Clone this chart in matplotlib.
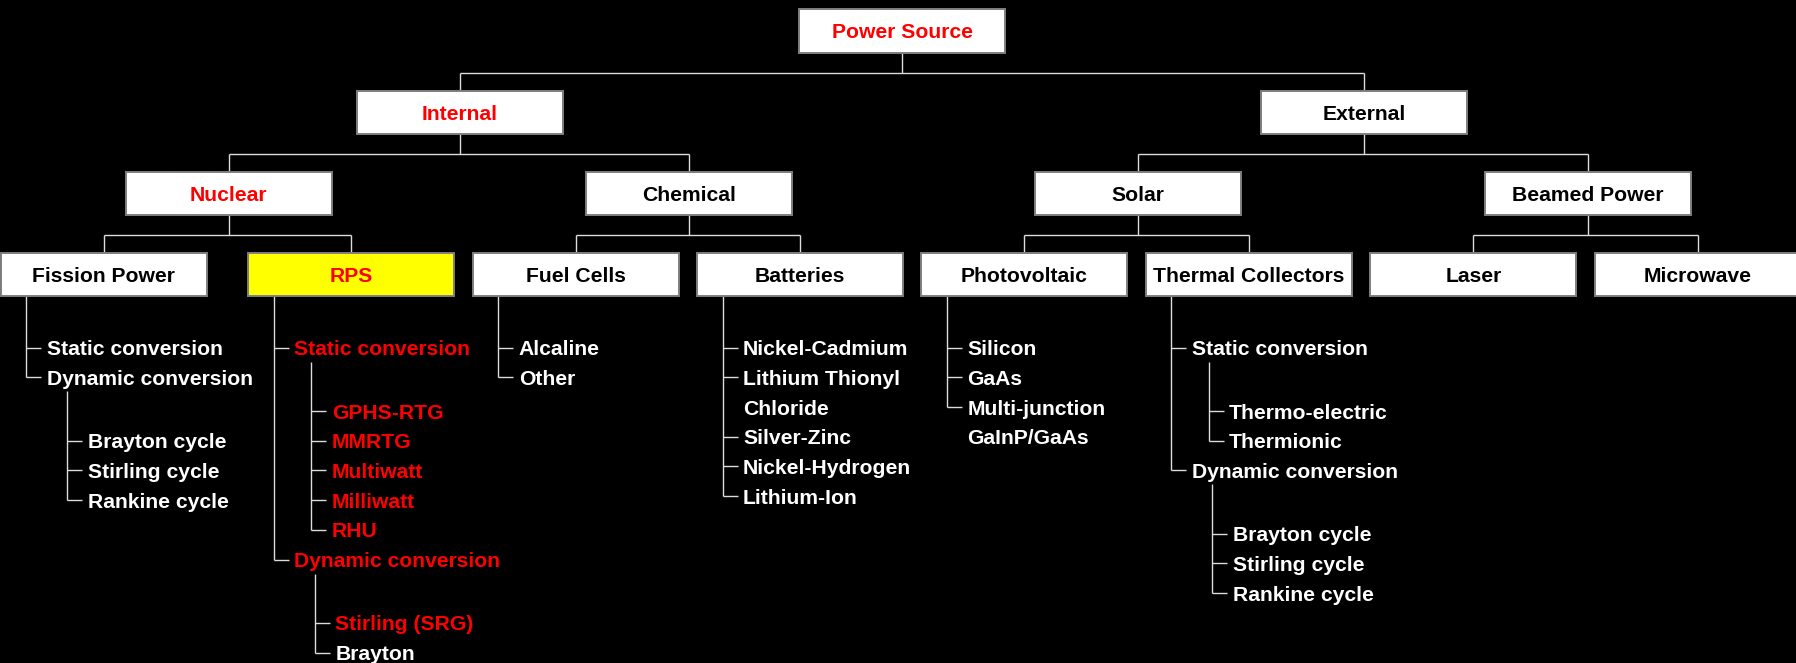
import matplotlib
matplotlib.use("Agg")
import matplotlib.pyplot as plt
from matplotlib.patches import Rectangle

# ---- tree content ----
root_label = "Power Source"
level1_labels = ["Internal", "External"]
level2_labels = ["Nuclear", "Chemical", "Solar", "Beamed Power"]
level3_labels = ["Fission Power", "RPS", "Fuel Cells", "Batteries",
                 "Photovoltaic", "Thermal Collectors", "Laser", "Microwave"]
level2_parent = [0, 0, 1, 1]
level3_parent = [0, 0, 1, 1, 2, 2, 3, 3]

# sub-lists under the bottom boxes: (label, depth); depth None = wrapped line
fission_items = [("Static conversion", 0), ("Dynamic conversion", 0),
                 ("Brayton cycle", 1), ("Stirling cycle", 1), ("Rankine cycle", 1)]
rps_items = [("Static conversion", 0), ("GPHS-RTG", 1), ("MMRTG", 1),
             ("Multiwatt", 1), ("Milliwatt", 1), ("RHU", 1),
             ("Dynamic conversion", 0), ("Stirling (SRG)", 1), ("Brayton", 1)]
fuel_items = [("Alcaline", 0), ("Other", 0)]
battery_items = [("Nickel-Cadmium", 0), ("Lithium Thionyl", 0), ("Chloride", None),
                 ("Silver-Zinc", 0), ("Nickel-Hydrogen", 0), ("Lithium-Ion", 0)]
pv_items = [("Silicon", 0), ("GaAs", 0), ("Multi-junction", 0), ("GaInP/GaAs", None)]
thermal_items = [("Static conversion", 0), ("Thermo-electric", 1), ("Thermionic", 1),
                 ("Dynamic conversion", 0), ("Brayton cycle", 1), ("Stirling cycle", 1),
                 ("Rankine cycle", 1)]
sub_items = {"Fission Power": fission_items, "RPS": rps_items,
             "Fuel Cells": fuel_items, "Batteries": battery_items,
             "Photovoltaic": pv_items, "Thermal Collectors": thermal_items}

# highlighted (red) entries
red_boxes = ["Power Source", "Internal", "Nuclear", "RPS"]
red_items = {"RPS": ["Static conversion", "GPHS-RTG", "MMRTG", "Multiwatt",
                     "Milliwatt", "RHU", "Dynamic conversion", "Stirling (SRG)"]}
yellow_boxes = ["RPS"]

# ---- layout (pixels, y down) ----
W, H = 1796, 663
BOX_W, BOX_H = 206, 43.5
root_cx, root_top = 902, 9
l1_cx = [460, 1364]
l1_top = 90.5
l2_cx = [228.5, 689, 1138, 1587.5]
l2_top = 171.7
l3_left = [0.7, 248.3, 472.7, 697, 921.3, 1145.7, 1370.3, 1594.7]
l3_top = 252.7
bus_y = [72.7, 154, 235.3]

FS = 15.2
FONT = "Liberation Sans"
LINE_C = "#dcdcdc"
EDGE_C = "#7f7f7f"
RED = "#ff0000"

fig = plt.figure(figsize=(W / 100, H / 100), dpi=100, facecolor="black")
ax = fig.add_axes([0, 0, 1, 1])
ax.set_xlim(0, W)
ax.set_ylim(H, 0)
ax.set_facecolor("black")
ax.axis("off")


def line(xs, ys):
    ax.plot(xs, ys, color=LINE_C, lw=1.0, solid_capstyle="butt", zorder=1)


def box(cx, top, label):
    fill = "#ffff00" if label in yellow_boxes else "white"
    ax.add_patch(Rectangle((cx - BOX_W / 2, top), BOX_W, BOX_H, facecolor=fill,
                           edgecolor=EDGE_C, lw=1.4, zorder=2))
    ax.text(cx, top + BOX_H / 2 + 7.6, label, ha="center", va="baseline",
            color=RED if label in red_boxes else "black", fontsize=FS,
            fontweight="bold", family=FONT, zorder=3)


def connect(parent_cx, parent_bottom, child_cxs, bus, child_top):
    line([parent_cx, parent_cx], [parent_bottom, bus])
    line([min(child_cxs), max(child_cxs)], [bus, bus])
    for c in child_cxs:
        line([c, c], [bus, child_top])


l3_cx = [x + BOX_W / 2 for x in l3_left]

# boxes
box(root_cx, root_top, root_label)
for cx, lab in zip(l1_cx, level1_labels):
    box(cx, l1_top, lab)
for cx, lab in zip(l2_cx, level2_labels):
    box(cx, l2_top, lab)
for cx, lab in zip(l3_cx, level3_labels):
    box(cx, l3_top, lab)

# connectors
connect(root_cx, root_top + BOX_H, l1_cx, bus_y[0], l1_top)
for i, cx in enumerate(l1_cx):
    kids = [l2_cx[j] for j, p in enumerate(level2_parent) if p == i]
    connect(cx, l1_top + BOX_H, kids, bus_y[1], l2_top)
for i, cx in enumerate(l2_cx):
    kids = [l3_cx[j] for j, p in enumerate(level3_parent) if p == i]
    connect(cx, l2_top + BOX_H, kids, bus_y[2], l3_top)

# indented lists
ROW0, STEP, GAP = 347.7, 29.7, 33.6
TRUNK_DX, TEXT_DX, TICK = 25.5, 20.5, 15
# sub-trunk sits under the parent label, a bit further in under "Dynamic"
SUB_DX = {"Static conversion": 37.5, "Dynamic conversion": 41}

for left, lab in zip(l3_left, level3_labels):
    items = sub_items.get(lab)
    if not items:
        continue
    trunk_x = left + TRUNK_DX
    ys = []
    y = ROW0
    prev_depth = 0
    for k, (txt, depth) in enumerate(items):
        if k > 0:
            y += STEP
            if depth == 1 and prev_depth == 0:
                y += GAP
        ys.append(y)
        if depth is not None:
            prev_depth = depth

    # main trunk
    top_rows = [ys[k] for k, (_, d) in enumerate(items) if d == 0]
    line([trunk_x, trunk_x], [l3_top + BOX_H, top_rows[-1]])
    for k, (txt, depth) in enumerate(items):
        if depth == 0:
            line([trunk_x, trunk_x + TICK], [ys[k], ys[k]])

    # second-level groups
    groups = []
    for k, (txt, depth) in enumerate(items):
        if depth == 0:
            groups.append([txt, ys[k], []])
        elif depth == 1:
            groups[-1][2].append(k)

    text_x = {}
    for ptxt, py, kids in groups:
        if not kids:
            continue
        sub_x = trunk_x + SUB_DX.get(ptxt, 40)
        line([sub_x, sub_x], [py + 14, ys[kids[-1]]])
        for k in kids:
            line([sub_x, sub_x + TICK], [ys[k], ys[k]])
            text_x[k] = sub_x + TEXT_DX

    reds = red_items.get(lab, [])
    for k, (txt, depth) in enumerate(items):
        x = text_x.get(k, trunk_x + TEXT_DX)
        ax.text(x, ys[k] + 7.6, txt, ha="left", va="baseline",
                color=RED if txt in reds else "white", fontsize=FS,
                fontweight="bold", family=FONT, zorder=3)

fig.savefig("out.png", dpi=100, facecolor="black")
